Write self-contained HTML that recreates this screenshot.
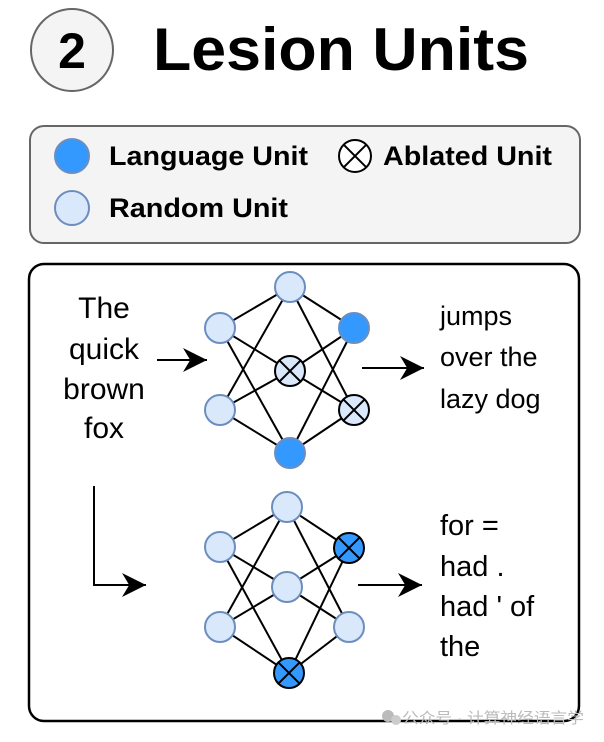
<!DOCTYPE html>
<html><head><meta charset="utf-8"><style>
html,body{margin:0;padding:0;background:#fff;}
svg{display:block;}
text{font-family:"Liberation Sans","Noto Sans CJK SC",sans-serif;}
</style></head><body>
<svg width="604" height="742" viewBox="0 0 604 742" xmlns="http://www.w3.org/2000/svg">
<defs>
<marker id="ah2" viewBox="0 0 10 10" markerWidth="24" markerHeight="24" refX="10" refY="5" orient="auto" markerUnits="userSpaceOnUse">
<path d="M0,0 L10,5 L0,10 L3,5 z" fill="#000"/></marker>
</defs>
<!-- title -->
<circle cx="72" cy="50" r="41" fill="#f4f4f4" stroke="#666" stroke-width="2"/>
<text x="72" y="68" font-size="50" font-weight="bold" text-anchor="middle">2</text>
<text x="153" y="70" font-size="60" font-weight="bold" textLength="376" lengthAdjust="spacingAndGlyphs">Lesion Units</text>
<!-- legend -->
<rect x="30" y="126" width="550" height="117" rx="14" fill="#f4f4f4" stroke="#666" stroke-width="2"/>
<circle cx="72" cy="156" r="17" fill="#3399ff" stroke="#6c8ebf" stroke-width="2"/>
<text x="109" y="165" font-size="27" font-weight="bold" textLength="199" lengthAdjust="spacingAndGlyphs">Language Unit</text>
<circle cx="355" cy="156" r="16" fill="#fff" stroke="#000" stroke-width="2"/>
<path d="M343.7,144.7 L366.3,167.3 M366.3,144.7 L343.7,167.3" stroke="#000" stroke-width="2"/>
<text x="383" y="165" font-size="27" font-weight="bold" textLength="169" lengthAdjust="spacingAndGlyphs">Ablated Unit</text>
<circle cx="72" cy="208" r="17" fill="#dae8fc" stroke="#6c8ebf" stroke-width="2"/>
<text x="109" y="217" font-size="27" font-weight="bold" textLength="179" lengthAdjust="spacingAndGlyphs">Random Unit</text>
<!-- main box -->
<rect x="29" y="264" width="550" height="457" rx="15" fill="#fff" stroke="#000" stroke-width="2.5"/>
<!-- left text -->
<g font-size="30" text-anchor="middle">
<text x="104" y="318">The</text>
<text x="104" y="359">quick</text>
<text x="104" y="399">brown</text>
<text x="104" y="438">fox</text>
</g>
<g font-size="27">
<text x="440" y="325">jumps</text>
<text x="440" y="366">over the</text>
<text x="440" y="408">lazy dog</text>
</g>
<g font-size="29">
<text x="440" y="535">for =</text>
<text x="440" y="576">had .</text>
<text x="440" y="616">had ' of</text>
<text x="440" y="656">the</text>
</g>
<!-- arrows -->
<g stroke="#000" stroke-width="2" fill="none">
<line x1="157" y1="360" x2="207" y2="360" marker-end="url(#ah2)"/>
<line x1="362" y1="368" x2="424" y2="368" marker-end="url(#ah2)"/>
<polyline points="94,486 94,585 146,585" marker-end="url(#ah2)"/>
<line x1="358" y1="585" x2="422" y2="585" marker-end="url(#ah2)"/>
</g>
<!-- top network edges -->
<g stroke="#000" stroke-width="2">
<line x1="220" y1="328" x2="290" y2="287"/><line x1="220" y1="328" x2="290" y2="371"/><line x1="220" y1="328" x2="290" y2="453"/>
<line x1="220" y1="410" x2="290" y2="287"/><line x1="220" y1="410" x2="290" y2="371"/><line x1="220" y1="410" x2="290" y2="453"/>
<line x1="354" y1="328" x2="290" y2="287"/><line x1="354" y1="328" x2="290" y2="371"/><line x1="354" y1="328" x2="290" y2="453"/>
<line x1="354" y1="410" x2="290" y2="287"/><line x1="354" y1="410" x2="290" y2="371"/><line x1="354" y1="410" x2="290" y2="453"/>
</g>
<g stroke-width="2">
<circle cx="220" cy="328" r="15" fill="#dae8fc" stroke="#6c8ebf"/>
<circle cx="220" cy="410" r="15" fill="#dae8fc" stroke="#6c8ebf"/>
<circle cx="290" cy="287" r="15" fill="#dae8fc" stroke="#6c8ebf"/>
<circle cx="290" cy="453" r="15" fill="#3399ff" stroke="#6c8ebf"/>
<circle cx="354" cy="328" r="15" fill="#3399ff" stroke="#6c8ebf"/>
<circle cx="290" cy="371" r="15" fill="#dae8fc" stroke="#000"/>
<path d="M279.4,360.4 L300.6,381.6 M300.6,360.4 L279.4,381.6" stroke="#000"/>
<circle cx="354" cy="410" r="15" fill="#dae8fc" stroke="#000"/>
<path d="M343.4,399.4 L364.6,420.6 M364.6,399.4 L343.4,420.6" stroke="#000"/>
</g>
<!-- bottom network edges -->
<g stroke="#000" stroke-width="2">
<line x1="220" y1="547" x2="287" y2="507"/><line x1="220" y1="547" x2="287" y2="587"/><line x1="220" y1="547" x2="289" y2="673"/>
<line x1="220" y1="627" x2="287" y2="507"/><line x1="220" y1="627" x2="287" y2="587"/><line x1="220" y1="627" x2="289" y2="673"/>
<line x1="349" y1="548" x2="287" y2="507"/><line x1="349" y1="548" x2="287" y2="587"/><line x1="349" y1="548" x2="289" y2="673"/>
<line x1="349" y1="627" x2="287" y2="507"/><line x1="349" y1="627" x2="287" y2="587"/><line x1="349" y1="627" x2="289" y2="673"/>
</g>
<g stroke-width="2">
<circle cx="220" cy="547" r="15" fill="#dae8fc" stroke="#6c8ebf"/>
<circle cx="220" cy="627" r="15" fill="#dae8fc" stroke="#6c8ebf"/>
<circle cx="287" cy="507" r="15" fill="#dae8fc" stroke="#6c8ebf"/>
<circle cx="287" cy="587" r="15" fill="#dae8fc" stroke="#6c8ebf"/>
<circle cx="349" cy="627" r="15" fill="#dae8fc" stroke="#6c8ebf"/>
<circle cx="349" cy="548" r="15" fill="#3399ff" stroke="#000"/>
<path d="M338.4,537.4 L359.6,558.6 M359.6,537.4 L338.4,558.6" stroke="#000"/>
<circle cx="289" cy="673" r="15" fill="#3399ff" stroke="#000"/>
<path d="M278.4,662.4 L299.6,683.6 M299.6,662.4 L278.4,683.6" stroke="#000"/>
</g>
<!-- watermark -->
<circle cx="388" cy="716" r="6" fill="#bbb"/><circle cx="396" cy="720" r="5" fill="#ccc"/>
<text x="402" y="723" font-size="15" fill="#bbb" textLength="182" lengthAdjust="spacingAndGlyphs">公众号 · 计算神经语言学</text>
</svg>
</body></html>
